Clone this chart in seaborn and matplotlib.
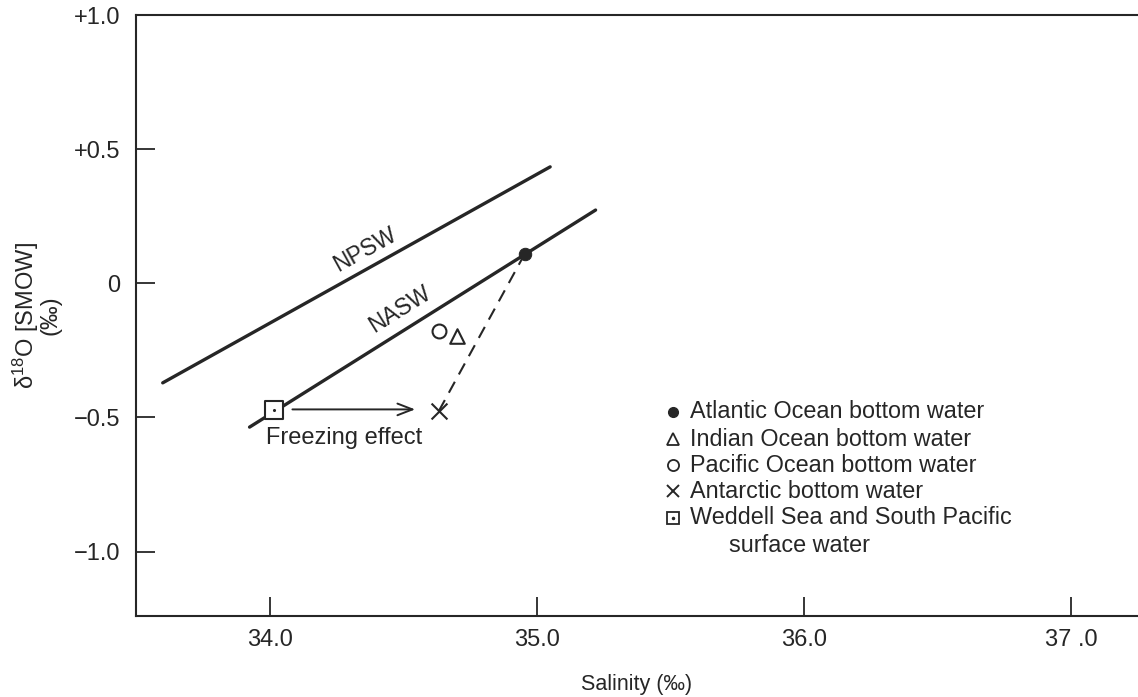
import matplotlib
matplotlib.use("Agg")
import matplotlib.pyplot as plt
import seaborn as sns
import pandas as pd

# ---- data ----
npsw_sal = [33.60, 35.05]
npsw_d18o = [-0.371, 0.434]
nasw_sal = [33.925, 35.22]
nasw_d18o = [-0.536, 0.273]

atlantic = (34.955, 0.110)
indian = (34.70, -0.195)
pacific = (34.634, -0.176)
antarctic = (34.634, -0.475)
weddell = (34.015, -0.472)
arrow_start = (34.075, -0.470)
arrow_end = (34.555, -0.470)

xticks = [34.0, 35.0, 36.0, 37.0]
xtick_labels = ["34.0", "35.0", "36.0", "37 .0"]
yticks = [1.0, 0.5, 0.0, -0.5, -1.0]
ytick_labels = ["+1.0", "+0.5", "0", "\u22120.5", "\u22121.0"]

legend_labels = ["Atlantic Ocean bottom water", "Indian Ocean bottom water",
                 "Pacific Ocean bottom water", "Antarctic bottom water",
                 "Weddell Sea and South Pacific"]

sns.set_theme(style="white")
plt.rcParams['font.family'] = ['Liberation Sans', 'DejaVu Sans']
plt.rcParams['mathtext.fontset'] = 'custom'
plt.rcParams['mathtext.rm'] = 'Liberation Sans'
plt.rcParams['mathtext.it'] = 'Liberation Sans:italic'

INK = "#262626"
fig = plt.figure(figsize=(11.38, 6.97), dpi=100)
fig.patch.set_facecolor("white")
ax = fig.add_axes([136/1138, (697-616)/697, 1 - 136/1138, (616-15)/697])
ax.set_facecolor("white")

lines = pd.DataFrame({
    "sal": npsw_sal + nasw_sal,
    "d18o": npsw_d18o + nasw_d18o,
    "water": ["NPSW"] * 2 + ["NASW"] * 2,
})
sns.lineplot(data=lines, x="sal", y="d18o", units="water", estimator=None,
             color=INK, lw=2.4, ax=ax, legend=False, sort=False)

dash = pd.DataFrame({"sal": [atlantic[0], antarctic[0]], "d18o": [atlantic[1], antarctic[1]]})
sns.lineplot(data=dash, x="sal", y="d18o", estimator=None, sort=False, color=INK,
             lw=1.5, ax=ax, legend=False, dashes=False, linestyle=(0, (6, 4)))

# markers
sns.scatterplot(x=[atlantic[0]], y=[atlantic[1]], marker="o", s=80, color=INK,
                edgecolor=INK, ax=ax, zorder=5)
sns.scatterplot(x=[indian[0]], y=[indian[1]], marker="^", s=110, facecolor="white",
                edgecolor=INK, linewidth=1.5, ax=ax, zorder=5)
sns.scatterplot(x=[pacific[0]], y=[pacific[1]], marker="o", s=100, facecolor="white",
                edgecolor=INK, linewidth=1.5, ax=ax, zorder=5)
sns.scatterplot(x=[antarctic[0]], y=[antarctic[1]], marker="x", s=130, color=INK,
                linewidth=1.5, ax=ax, zorder=5)
sns.scatterplot(x=[weddell[0]], y=[weddell[1]], marker="s", s=150, facecolor="white",
                edgecolor=INK, linewidth=1.5, ax=ax, zorder=5)
sns.scatterplot(x=[weddell[0]], y=[weddell[1]], marker=".", s=20, color=INK,
                linewidth=0, ax=ax, zorder=6)

ax.annotate("", xy=arrow_end, xytext=arrow_start,
            arrowprops=dict(arrowstyle="->,head_length=0.9,head_width=0.35", color=INK, lw=1.4))
ax.text(33.985, -0.578, "Freezing effect", fontsize=17, color=INK, ha="left", va="center")
ax.text(34.358, 0.127, "NPSW", fontsize=16.5, color=INK, ha="center", va="center",
        rotation=29, rotation_mode="anchor")
ax.text(34.487, -0.097, "NASW", fontsize=16.5, color=INK, ha="center", va="center",
        rotation=32, rotation_mode="anchor")

ax.set_xlim(33.5, 37.25)
ax.set_ylim(-1.24, 1.0)
ax.set_xticks(xticks)
ax.set_xticklabels(xtick_labels)
ax.set_yticks(yticks)
ax.set_yticklabels(ytick_labels)
ax.tick_params(axis="both", direction="in", length=14, width=1.3, colors=INK,
               labelsize=17, labelcolor=INK, bottom=True, left=True)
ax.tick_params(axis="x", pad=9)
ax.tick_params(axis="y", pad=11)
for s in ["left", "bottom", "top"]:
    ax.spines[s].set_color(INK)
    ax.spines[s].set_linewidth(1.5)
ax.spines["right"].set_visible(False)

ax.set_xlabel("Salinity (\u2030)", fontsize=15.5, color=INK, labelpad=17)
ax.set_ylabel("\u03b4$^{18}$O [SMOW]\n(\u2030)", fontsize=17, color=INK, labelpad=9,
              linespacing=0.9)

# legend drawn manually
trans = ax.transAxes
def px2ax(px, py):
    return ((px - 136) / (1138 - 136), (616 - py) / (616 - 15))

rows_y = [412, 439, 465, 491, 518]
mk = [dict(marker="o", ms=7, mfc=INK, mec=INK),
      dict(marker="^", ms=8, mfc="white", mec=INK, mew=1.3),
      dict(marker="o", ms=8, mfc="white", mec=INK, mew=1.3),
      dict(marker="x", ms=9, mec=INK, mew=1.4),
      dict(marker="s", ms=9, mfc="white", mec=INK, mew=1.3)]
for lab, py, m in zip(legend_labels, rows_y, mk):
    mx, my = px2ax(673, py)
    ax.plot([mx], [my], transform=trans, ls="none", clip_on=False, **m)
    tx, ty = px2ax(690, py)
    ax.text(tx, ty, lab, transform=trans, fontsize=16.8, color=INK, ha="left", va="center")
mx, my = px2ax(673, 518)
ax.plot([mx], [my], transform=trans, ls="none", marker=".", ms=3, color=INK)
tx, ty = px2ax(729, 545)
ax.text(tx, ty, "surface water", transform=trans, fontsize=16.8, color=INK, ha="left", va="center")

fig.savefig("out.png", dpi=100, facecolor="white")
